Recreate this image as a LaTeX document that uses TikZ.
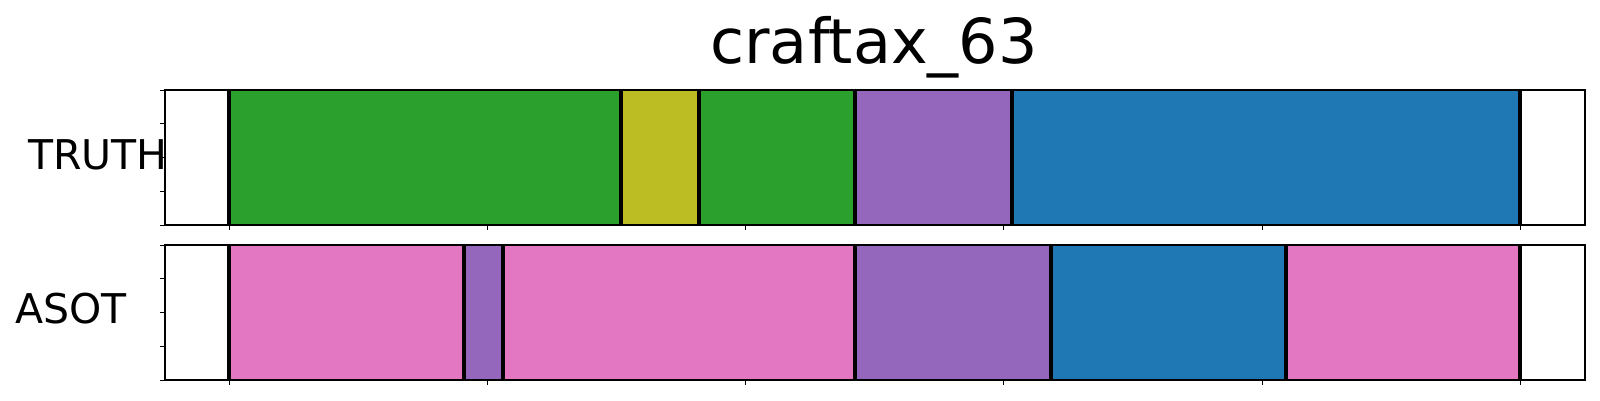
\documentclass[tikz,border=0pt]{standalone}
\usepackage{fontspec}
\setmainfont{DejaVu Sans}
\definecolor{tgreen}{HTML}{2CA02C}
\definecolor{tolive}{HTML}{BCBD22}
\definecolor{tpurple}{HTML}{9467BD}
\definecolor{tblue}{HTML}{1F77B4}
\definecolor{tpink}{HTML}{E377C2}
\tikzset{
  seg/.style={draw=none},
  bound/.style={line width=4.5pt, black},
  frame/.style={line width=1.1pt, black},
  tickline/.style={line width=1pt, black},
  lbl/.style={inner sep=0pt, font=\fontsize{41}{41}\selectfont},
  ttl/.style={inner sep=0pt, font=\fontsize{62}{62}\selectfont}
}
\begin{document}
\begin{tikzpicture}[x=1pt,y=-1pt]
\useasboundingbox (0,0) rectangle (1600,400);
\fill[white] (0,0) rectangle (1600,400);
% title
\node[ttl, anchor=base] (title) at (874,63.3) {craftax\_63};
% TRUTH segments
\fill[tgreen]  (229,90) rectangle (621,225);
\fill[tolive]  (621,90) rectangle (699,225);
\fill[tgreen]  (699,90) rectangle (855,225);
\fill[tpurple] (855,90) rectangle (1012,225);
\fill[tblue]   (1012,90) rectangle (1520,225);
\foreach \b in {229,621,699,855,1012,1520}
  \draw[bound] (\b,90) -- (\b,225);
\draw[frame] (165,90) rectangle (1585,225);
\foreach \t in {90,123.75,157.5,191.25,225}
  \draw[tickline] (160,\t) -- (165,\t);
\foreach \t in {229.3,487.5,745.7,1003.9,1262.1,1520.3}
  \draw[tickline] (\t,225) -- (\t,230);
% ASOT segments
\fill[tpink]   (229,245) rectangle (464,380);
\fill[tpurple] (464,245) rectangle (503,380);
\fill[tpink]   (503,245) rectangle (855,380);
\fill[tpurple] (855,245) rectangle (1051,380);
\fill[tblue]   (1051,245) rectangle (1286,380);
\fill[tpink]   (1286,245) rectangle (1520,380);
\foreach \b in {229,464,503,855,1051,1286,1520}
  \draw[bound] (\b,245) -- (\b,380);
\draw[frame] (165,245) rectangle (1585,380);
\foreach \t in {245,278.75,312.5,346.25,380}
  \draw[tickline] (160,\t) -- (165,\t);
\foreach \t in {229.3,487.5,745.7,1003.9,1262.1,1520.3}
  \draw[tickline] (\t,380) -- (\t,385);
% labels
\node[lbl, anchor=base west] (truth) at (28,169) {TRUTH};
\node[lbl, anchor=base west] (asot) at (15,323) {ASOT};
\end{tikzpicture}
\end{document}
